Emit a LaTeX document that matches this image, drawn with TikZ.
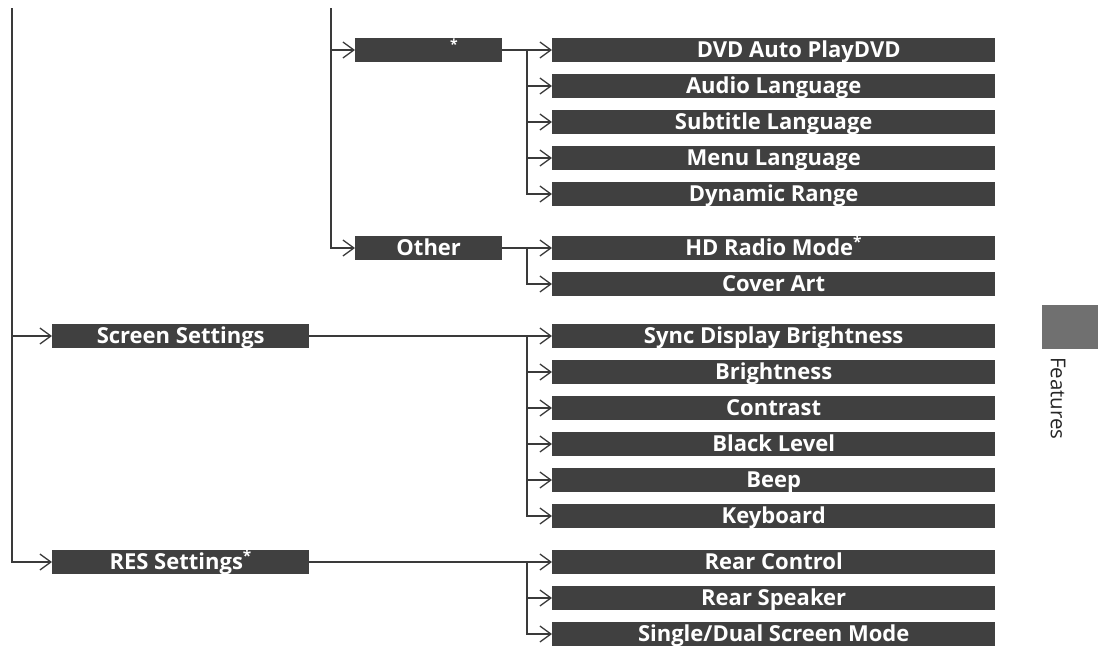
\documentclass[tikz,border=0pt]{standalone}
\usepackage{fontspec}
\setsansfont{Open Sans}
\usetikzlibrary{arrows.meta}
\definecolor{boxgray}{HTML}{404040}
\definecolor{linegray}{HTML}{3A3A3A}
\definecolor{tabgray}{HTML}{707070}
\tikzset{
	box/.style={fill=boxgray, text=white, font=\sffamily\bfseries\fontsize{22}{22}\selectfont,
		minimum height=24pt, inner sep=0pt, anchor=west, text height=17pt, text depth=3pt},
	item/.style={box, minimum width=443pt},
	midbox/.style={box, minimum width=147pt},
	headbox/.style={box, minimum width=257pt},
	arr/.style={-{Straight Barb[length=11pt,width=16pt]}, line width=1.3pt, draw=linegray}
}

\begin{document}
\begin{tikzpicture}[x=1pt,y=-1pt]
			\useasboundingbox (0,0) rectangle (1098,654);
			% first level
			\node[headbox] (screen) at (52,336) {Screen Settings};
			\node[headbox] (res) at (52,562) {RES Settings\textsuperscript{*}};
			% second level
			\node[midbox] (dvdmenu) at (355,50) {};
			\node[text=white, font=\sffamily\bfseries\fontsize{14}{14}\selectfont, inner sep=0pt] (dvdstar) at (454,44) {*};
			\node[midbox] (other) at (355,248) {Other};
			% third level
			\node[item] (autoplay) at (552,50) {\hspace*{50pt}DVD Auto PlayDVD};
			\node[item] (audio) at (552,86) {Audio Language};
			\node[item] (subtitle) at (552,122) {Subtitle Language};
			\node[item] (menu) at (552,158) {Menu Language};
			\node[item] (range) at (552,194) {Dynamic Range};
			\node[item] (hdradio) at (552,248) {HD Radio Mode\textsuperscript{*}};
			\node[item] (cover) at (552,284) {Cover Art};
			\node[item] (sync) at (552,336) {Sync Display Brightness};
			\node[item] (bright) at (552,372) {Brightness};
			\node[item] (contrast) at (552,408) {Contrast};
			\node[item] (black) at (552,444) {Black Level};
			\node[item] (beep) at (552,480) {Beep};
			\node[item] (keyboard) at (552,516) {Keyboard};
			\node[item] (rearctl) at (552,562) {Rear Control};
			\node[item] (rearspk) at (552,598) {Rear Speaker};
			\node[item] (dual) at (552,634) {Single/Dual Screen Mode};
			% trunks
			\coordinate (trunkA) at (12,8);
			\coordinate (trunkB) at (331,8);
			\draw[arr] (trunkA) |- (res.west);
			\draw[arr] (trunkA |- screen.west) -- (screen.west);
			\draw[arr] (trunkB) |- (other.west);
			\draw[arr] (trunkB |- dvdmenu.west) -- (dvdmenu.west);
			% branches
			\coordinate (splitA) at (527,50);
			\coordinate (splitB) at (527,248);
			\coordinate (splitC) at (527,336);
			\coordinate (splitD) at (527,562);
			\draw[arr] (dvdmenu.east) -- (autoplay.west);
			\foreach \n in {audio,subtitle,menu,range}
				\draw[arr] (splitA) |- (\n.west);
			\draw[arr] (other.east) -- (hdradio.west);
			\draw[arr] (splitB) |- (cover.west);
			\draw[arr] (screen.east) -- (sync.west);
			\foreach \n in {bright,contrast,black,beep,keyboard}
				\draw[arr] (splitC) |- (\n.west);
			\draw[arr] (res.east) -- (rearctl.west);
			\foreach \n in {rearspk,dual}
				\draw[arr] (splitD) |- (\n.west);
			% side tab
			\fill[tabgray] (1042,305) rectangle (1098,349);
			\node[rotate=-90, anchor=west, inner sep=0pt, text=black!85,
				font=\sffamily\fontsize{20.5}{20.5}\selectfont] (tab) at (1058,357) {Features};
		\end{tikzpicture}
\end{document}
